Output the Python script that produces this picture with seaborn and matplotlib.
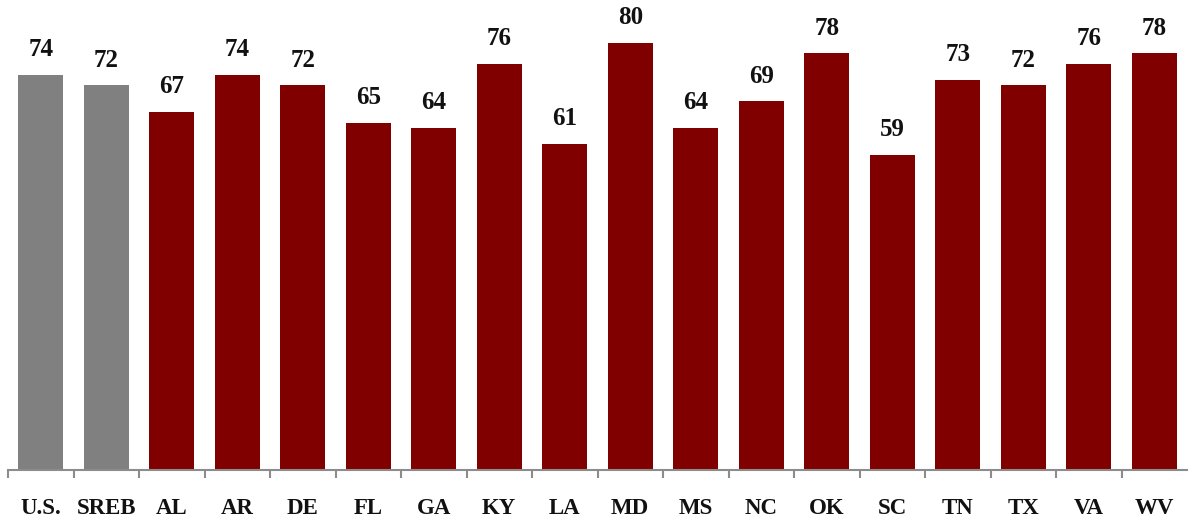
import matplotlib
matplotlib.use("Agg")
import matplotlib.pyplot as plt
import seaborn as sns
import pandas as pd
import numpy as np

categories = ["U.S.", "SREB", "AL", "AR", "DE", "FL", "GA", "KY", "LA", "MD",
              "MS", "NC", "OK", "SC", "TN", "TX", "VA", "WV"]
values = [74, 72, 67, 74, 72, 65, 64, 76, 61, 80, 64, 69, 78, 59, 73, 72, 76, 78]
colors = ["#808080", "#808080"] + ["#800000"] * 16

sns.set_theme(style="white")
plt.rcParams["font.family"] = ["Liberation Serif", "DejaVu Serif"]

df = pd.DataFrame({"cat": categories, "val": values})

fig = plt.figure(figsize=(11.95, 5.21), dpi=100)
ax = fig.add_axes([8 / 1195, 51 / 521, 1179 / 1195, 470 / 521])
sns.barplot(data=df, x="cat", y="val", hue="cat", palette=colors, legend=False,
            width=0.68, saturation=1, ax=ax, edgecolor="none")

ax.set_xlim(-0.5, 17.5)
ax.set_ylim(0, 88)
ax.set_xlabel("")
ax.set_ylabel("")
ax.set_yticks([])
for s in ["top", "right", "left"]:
    ax.spines[s].set_visible(False)
ax.spines["bottom"].set_color("#8c8c8c")
ax.spines["bottom"].set_linewidth(1.5)

ax.set_xticks(range(len(categories)))
ax.set_xticklabels(categories, fontsize=16.5, fontweight="bold", color="#111111")
ax.tick_params(axis="x", which="major", length=0, pad=20)
ax.set_xticks(np.arange(len(categories)) - 0.5, minor=True)
ax.tick_params(axis="x", which="minor", length=6, width=1.5, color="#8c8c8c", bottom=True)

for i, v in enumerate(values):
    ax.annotate(str(v), (i, v), xytext=(0, 10), textcoords="offset points",
                ha="center", va="bottom", fontsize=18, fontweight="bold", color="#111111")

fig.savefig("out.png", dpi=100)
